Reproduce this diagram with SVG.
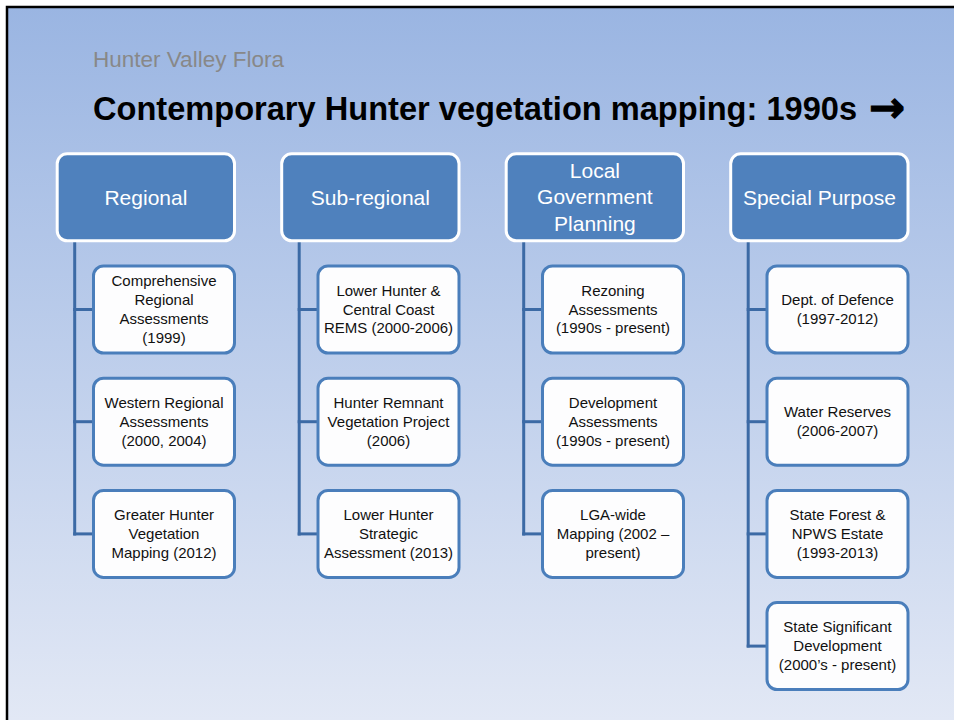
<svg xmlns="http://www.w3.org/2000/svg" width="954" height="720" viewBox="0 0 954 720">
<style>
.hdr rect{fill:#4f81bd;stroke:#ffffff;stroke-width:3}
.hdr text{font-family:"Liberation Sans",Arial,sans-serif;font-size:21px;fill:#ffffff;text-anchor:middle}
.child rect{fill:#fdfdfe;stroke:#4a7ebb;stroke-width:3}
.child text{font-family:"Liberation Sans",Arial,sans-serif;font-size:15px;fill:#111111;text-anchor:middle}
.conn line{stroke:#3c6aa5;stroke-width:3;stroke-linecap:butt}
</style>
<defs>
<linearGradient id="bg" x1="0" y1="7" x2="0" y2="720" gradientUnits="userSpaceOnUse">
<stop offset="0" stop-color="#9ab5e2"/>
<stop offset="1" stop-color="#e2e8f5"/>
</linearGradient>
</defs>
<rect x="0" y="0" width="954" height="720" fill="#ffffff"/>
<rect x="7" y="7" width="960" height="730" fill="url(#bg)" stroke="#000000" stroke-width="2.5"/>

<g id="title">
<text x="93" y="67" font-family="Liberation Sans,Arial,sans-serif" font-size="22.5" fill="#888888">Hunter Valley Flora</text>
<text x="93" y="119.5" font-family="Liberation Sans,Arial,sans-serif" font-size="33" font-weight="bold" fill="#000000" textLength="764" lengthAdjust="spacingAndGlyphs">Contemporary Hunter vegetation mapping: 1990s</text>
<text x="869" y="122" font-family="DejaVu Sans,sans-serif" font-size="43" font-weight="bold" fill="#000000" stroke="#000000" stroke-width="1.2">→</text>
</g>

<g id="connectors" class="conn">
<line x1="74.7" y1="241" x2="74.7" y2="535.4"/>
<line x1="73.2" y1="309.5" x2="93" y2="309.5"/>
<line x1="73.2" y1="421.7" x2="93" y2="421.7"/>
<line x1="73.2" y1="533.9" x2="93" y2="533.9"/>
<line x1="299.2" y1="241" x2="299.2" y2="535.4"/>
<line x1="297.7" y1="309.5" x2="317.5" y2="309.5"/>
<line x1="297.7" y1="421.7" x2="317.5" y2="421.7"/>
<line x1="297.7" y1="533.9" x2="317.5" y2="533.9"/>
<line x1="523.7" y1="241" x2="523.7" y2="535.4"/>
<line x1="522.2" y1="309.5" x2="542" y2="309.5"/>
<line x1="522.2" y1="421.7" x2="542" y2="421.7"/>
<line x1="522.2" y1="533.9" x2="542" y2="533.9"/>
<line x1="748.2" y1="241" x2="748.2" y2="647.6"/>
<line x1="746.7" y1="309.5" x2="766.5" y2="309.5"/>
<line x1="746.7" y1="421.7" x2="766.5" y2="421.7"/>
<line x1="746.7" y1="533.9" x2="766.5" y2="533.9"/>
<line x1="746.7" y1="646.1" x2="766.5" y2="646.1"/>
</g>

<g id="regional" class="hdr">
<rect x="57.2" y="153.8" width="177.3" height="87" rx="10"/>
<text x="145.9" y="204.5">Regional</text>
</g>
<g id="subregional" class="hdr">
<rect x="281.7" y="153.8" width="177.3" height="87" rx="10"/>
<text x="370.4" y="204.5">Sub-regional</text>
</g>
<g id="local" class="hdr">
<rect x="506.2" y="153.8" width="177.3" height="87" rx="10"/>
<text x="594.9" y="177.6">Local</text>
<text x="594.9" y="204.3">Government</text>
<text x="594.9" y="231">Planning</text>
</g>
<g id="special" class="hdr">
<rect x="730.7" y="153.8" width="177.3" height="87" rx="10"/>
<text x="819.4" y="204.5">Special Purpose</text>
</g>

<g id="r1" class="child">
<rect x="93.5" y="266" width="141" height="87" rx="10"/>
<text x="164" y="286.3">Comprehensive</text>
<text x="164" y="305.1">Regional</text>
<text x="164" y="323.9">Assessments</text>
<text x="164" y="342.7">(1999)</text>
</g>
<g id="r2" class="child">
<rect x="93.5" y="378.2" width="141" height="87" rx="10"/>
<text x="164" y="407.9">Western Regional</text>
<text x="164" y="426.7">Assessments</text>
<text x="164" y="445.5">(2000, 2004)</text>
</g>
<g id="r3" class="child">
<rect x="93.5" y="490.4" width="141" height="87" rx="10"/>
<text x="164" y="520.1">Greater Hunter</text>
<text x="164" y="538.9">Vegetation</text>
<text x="164" y="557.7">Mapping (2012)</text>
</g>

<g id="s1" class="child">
<rect x="318" y="266" width="141" height="87" rx="10"/>
<text x="388.5" y="295.7">Lower Hunter &amp;</text>
<text x="388.5" y="314.5">Central Coast</text>
<text x="388.5" y="333.3">REMS (2000-2006)</text>
</g>
<g id="s2" class="child">
<rect x="318" y="378.2" width="141" height="87" rx="10"/>
<text x="388.5" y="407.9">Hunter Remnant</text>
<text x="388.5" y="426.7">Vegetation Project</text>
<text x="388.5" y="445.5">(2006)</text>
</g>
<g id="s3" class="child">
<rect x="318" y="490.4" width="141" height="87" rx="10"/>
<text x="388.5" y="520.1">Lower Hunter</text>
<text x="388.5" y="538.9">Strategic</text>
<text x="388.5" y="557.7">Assessment (2013)</text>
</g>

<g id="l1" class="child">
<rect x="542.5" y="266" width="141" height="87" rx="10"/>
<text x="613" y="295.7">Rezoning</text>
<text x="613" y="314.5">Assessments</text>
<text x="613" y="333.3">(1990s - present)</text>
</g>
<g id="l2" class="child">
<rect x="542.5" y="378.2" width="141" height="87" rx="10"/>
<text x="613" y="407.9">Development</text>
<text x="613" y="426.7">Assessments</text>
<text x="613" y="445.5">(1990s - present)</text>
</g>
<g id="l3" class="child">
<rect x="542.5" y="490.4" width="141" height="87" rx="10"/>
<text x="613" y="520.1">LGA-wide</text>
<text x="613" y="538.9">Mapping (2002 –</text>
<text x="613" y="557.7">present)</text>
</g>

<g id="p1" class="child">
<rect x="767" y="266" width="141" height="87" rx="10"/>
<text x="837.5" y="305.1">Dept. of Defence</text>
<text x="837.5" y="323.9">(1997-2012)</text>
</g>
<g id="p2" class="child">
<rect x="767" y="378.2" width="141" height="87" rx="10"/>
<text x="837.5" y="417.3">Water Reserves</text>
<text x="837.5" y="436.1">(2006-2007)</text>
</g>
<g id="p3" class="child">
<rect x="767" y="490.4" width="141" height="87" rx="10"/>
<text x="837.5" y="520.1">State Forest &amp;</text>
<text x="837.5" y="538.9">NPWS Estate</text>
<text x="837.5" y="557.7">(1993-2013)</text>
</g>
<g id="p4" class="child">
<rect x="767" y="602.6" width="141" height="87" rx="10"/>
<text x="837.5" y="632.3">State Significant</text>
<text x="837.5" y="651.1">Development</text>
<text x="837.5" y="669.9">(2000’s - present)</text>
</g>
</svg>
